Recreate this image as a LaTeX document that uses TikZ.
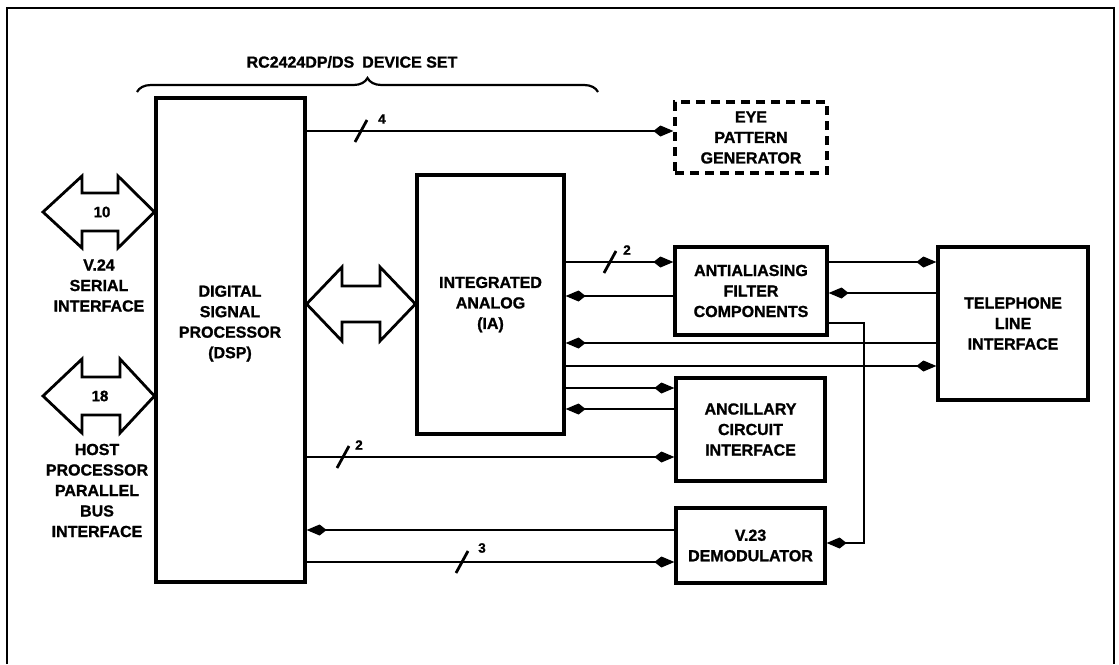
\documentclass[tikz,border=0pt]{standalone}
\usepackage{fontspec}
\setmainfont{Liberation Sans}[BoldFont={Liberation Sans Bold}, BoldFeatures={FakeBold=1.2}]
\usetikzlibrary{arrows.meta,decorations.pathreplacing,calc}
\newcommand\mylbl{\fontsize{16}{20.5}\selectfont\bfseries}
\newcommand\mynum{\fontsize{15}{18}\selectfont\bfseries}
\newcommand\mysmall{\fontsize{13.5}{15}\selectfont\bfseries}
\tikzset{
  box/.style={draw, line width=3.2pt, inner sep=0pt, align=center, font=\mylbl},
  txt/.style={inner sep=0pt, align=center, font=\mylbl},
  num/.style={inner sep=0pt, font=\mynum},
  buslbl/.style={inner sep=0pt, font=\mysmall},
  conn/.style={line width=2.8pt, -{Kite[length=20pt,width=11pt,inset=7pt]}},
  slashmark/.style={line width=2.8pt},
  busarrow/.style={draw, line width=2.8pt, line join=miter},
  frame/.style={line width=1.6pt},
  bracestyle/.style={line width=2.2pt, decorate, decoration={brace, amplitude=14pt}}
}
\begin{document}
\begin{tikzpicture}[x=1pt,y=-1pt]
\useasboundingbox (0,0) rectangle (1119,664);
% frame
\draw[frame] (7,664) -- (7,8) -- (1114,8) -- (1114,664);

% title and brace
\node[txt] (title) at (352,62) {RC2424DP/DS\enspace DEVICE SET};
\coordinate (braceL) at (137,92);
\coordinate (braceR) at (598,92);
\draw[bracestyle] (braceL) -- (braceR);

% boxes
\node[box, minimum width=149pt, minimum height=484pt] (dsp) at (230.5,340) {};
\node[txt] (dsptext) at (230,323.5) {DIGITAL\\SIGNAL\\PROCESSOR\\(DSP)};
\node[box, minimum width=147pt, minimum height=259pt] (ia) at (490.5,304.5) {INTEGRATED\\ANALOG\\(IA)};
\node[box, dash pattern=on 9pt off 6pt, minimum width=152pt, minimum height=71pt] (eye) at (751,137.5) {EYE\\PATTERN\\GENERATOR};
\node[box, minimum width=152pt, minimum height=88pt] (aaf) at (751,291) {ANTIALIASING\\FILTER\\COMPONENTS};
\node[box, minimum width=149pt, minimum height=103pt] (anc) at (750.5,429.5) {ANCILLARY\\CIRCUIT\\INTERFACE};
\node[box, minimum width=149pt, minimum height=75pt] (v23) at (750.5,545.5) {V.23\\DEMODULATOR};
\node[box, minimum width=150pt, minimum height=153pt] (tli) at (1013,323.5) {TELEPHONE\\LINE\\INTERFACE};

% bus arrows (left side)
\draw[busarrow] (43,212) -- (82,176) -- (82,193) -- (118,193) -- (118,176) -- (dsp.west |- 0,212)
  -- (118,248) -- (118,231) -- (82,231) -- (82,248) -- cycle;
\node[num] (n10) at (102,212) {10};
\node[txt] (v24) at (99,285.5) {V.24\\SERIAL\\INTERFACE};

\draw[busarrow] (43,396) -- (82,359) -- (82,377) -- (120,377) -- (120,359) -- (dsp.west |- 0,396)
  -- (120,433) -- (120,415) -- (82,415) -- (82,433) -- cycle;
\node[num] (n18) at (100,396) {18};
\node[txt] (host) at (97,490.5) {HOST\\PROCESSOR\\PARALLEL\\BUS\\INTERFACE};

% DSP <-> IA bus arrow
\draw[busarrow] (dsp.east |- 0,304) -- (342,267) -- (342,286) -- (380,286) -- (380,267) -- (ia.west |- 0,304)
  -- (380,341) -- (380,322) -- (342,322) -- (342,341) -- cycle;

% connectors
\draw[conn] (dsp.east |- 0,131) -- (eye.west |- 0,131);
\draw[slashmark] (361,131) ++(-6,11) -- ++(12,-22);
\node[buslbl] (b4) at (382,119) {4};

\draw[conn] (ia.east |- 0,262) -- (aaf.west |- 0,262);
\draw[slashmark] (610,262) ++(-6,11) -- ++(12,-22);
\node[buslbl] (b2a) at (627,250) {2};
\draw[conn] (aaf.west |- 0,296) -- (ia.east |- 0,296);
\draw[conn] (tli.west |- 0,343) -- (ia.east |- 0,343);
\draw[conn] (ia.east |- 0,366) -- (tli.west |- 0,366);
\draw[conn] (ia.east |- 0,388) -- (anc.west |- 0,388);
\draw[conn] (anc.west |- 0,409) -- (ia.east |- 0,409);

\draw[conn] (dsp.east |- 0,457) -- (anc.west |- 0,457);
\draw[slashmark] (343,457) ++(-6,11) -- ++(12,-22);
\node[buslbl] (b2b) at (359,445) {2};

\draw[conn] (v23.west |- 0,530) -- (dsp.east |- 0,530);
\draw[conn] (dsp.east |- 0,562) -- (v23.west |- 0,562);
\draw[slashmark] (462,562) ++(-6,11) -- ++(12,-22);
\node[buslbl] (b3) at (482,548) {3};

\draw[conn] (aaf.east |- 0,262) -- (tli.west |- 0,262);
\draw[conn] (tli.west |- 0,293) -- (aaf.east |- 0,293);
\coordinate (bend) at (864,543);
\draw[conn] (aaf.east |- 0,323) -| (bend) -- (v23.east |- bend);
\end{tikzpicture}
\end{document}
